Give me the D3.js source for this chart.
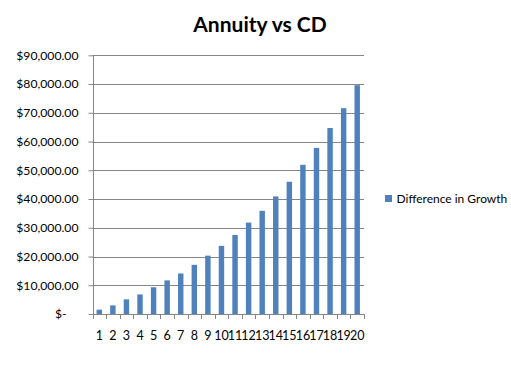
<!DOCTYPE html>
<html><head><meta charset="utf-8">
<script src="https://cdn.jsdelivr.net/npm/d3@7"></script>
<style>body{margin:0;background:#fff;} svg{display:block;font-family:Lato,"Open Sans",sans-serif;}</style>
</head><body>
<svg id="c" width="511" height="388"></svg>
<script>
const categories = ["1","2","3","4","5","6","7","8","9","10","11","12","13","14","15","16","17","18","19","20"];
const differenceInGrowth = [1500,3000,5100,6800,9300,11700,14100,17100,20300,23700,27500,31800,35900,40900,46000,51900,57800,64700,71600,79600];
const yTicks = [0,10000,20000,30000,40000,50000,60000,70000,80000,90000];
const seriesName = "Difference in Growth";
const title = "Annuity vs CD";

const svg = d3.select("#c");
const m = {l:92.5, r:364, t:55.3, b:314};
const x = d3.scaleBand().domain(categories).range([m.l, m.r]).paddingInner(0.6).paddingOuter(0.3);
const y = d3.scaleLinear().domain([0,90000]).range([m.b, m.t]);
const grid = "#868686";

svg.append("text").attr("x",260).attr("y",31.5).attr("text-anchor","middle")
  .attr("font-weight","bold").attr("font-size",21).attr("fill","#000").text(title);

// gridlines
svg.append("g").selectAll("line").data(yTicks.filter(d=>d>0)).join("line")
  .attr("x1",m.l).attr("x2",m.r).attr("y1",d=>Math.round(y(d))+0.5).attr("y2",d=>Math.round(y(d))+0.5)
  .attr("stroke",grid).attr("stroke-width",1);

// y axis
const fmt = d => d===0 ? "$-" : "$" + d3.format(",.2f")(d);
const ya = svg.append("g").attr("transform",`translate(${Math.round(m.l)+0.5},0)`)
  .call(d3.axisLeft(y).tickValues(yTicks).tickFormat(fmt).tickSize(5).tickPadding(10));
ya.select(".domain").attr("stroke",grid).attr("d",`M0,${m.t}V${m.b}`);
ya.selectAll(".tick line").attr("stroke",grid);
ya.selectAll(".tick text").attr("font-size",12.2).attr("fill","#000").attr("font-family","Lato");
ya.selectAll(".tick").filter(d=>d===0).select("text").attr("dx",-12);

// bars
svg.append("g").selectAll("rect").data(differenceInGrowth).join("rect")
  .attr("x",(d,i)=>x(categories[i])).attr("width",x.bandwidth())
  .attr("y",d=>y(d)).attr("height",d=>y(0)-y(d)).attr("fill","#4F81BD");

// x axis
const step = (m.r-m.l)/categories.length;
const xa = svg.append("g");
xa.append("line").attr("x1",m.l).attr("x2",m.r).attr("y1",Math.round(m.b)+0.5).attr("y2",Math.round(m.b)+0.5).attr("stroke",grid);
xa.selectAll("line.t").data(d3.range(categories.length+1)).join("line").attr("class","t")
  .attr("x1",i=>Math.round(m.l+i*step)+0.5).attr("x2",i=>Math.round(m.l+i*step)+0.5)
  .attr("y1",m.b).attr("y2",m.b+5).attr("stroke",grid);
xa.selectAll("text").data(categories).join("text")
  .attr("x",d=>m.l + step*(categories.indexOf(d)+0.5)).attr("y",339.5)
  .attr("text-anchor","middle").attr("font-size",12.5).attr("fill","#000").text(d=>d);

// legend
svg.append("rect").attr("x",385).attr("y",195).attr("width",7).attr("height",7).attr("fill","#4F81BD");
svg.append("text").attr("x",396.5).attr("y",203).attr("font-size",12).attr("fill","#000").text(seriesName);
</script>
</body></html>
